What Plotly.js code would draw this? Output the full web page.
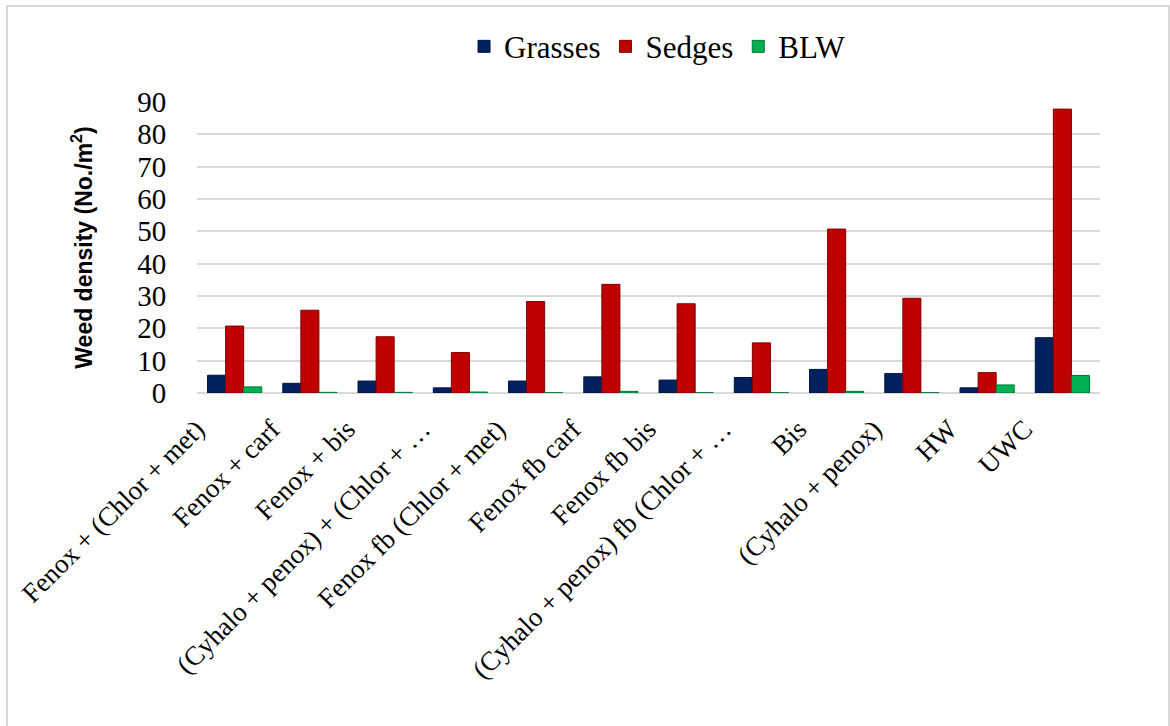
<!DOCTYPE html>
<html>
<head>
<meta charset="utf-8">
<script src="https://cdn.plot.ly/plotly-3.0.1.min.js"></script>
<style>
  html, body { margin: 0; padding: 0; background: #fff; }
  #wrap { position: relative; width: 1170px; height: 726px; overflow: hidden; }
  #chart { position: absolute; left: 0; top: 0; width: 1170px; height: 726px; }
  #frame { position: absolute; left: 6px; top: 5px; width: 1160px; height: 740px;
           border: 2px solid #d9d9d9; pointer-events: none; }
</style>
</head>
<body>
<div id="wrap">
  <div id="chart"></div>
  <div id="frame"></div>
</div>
<script>
const categories = [
  "Fenox + (Chlor + met)",
  "Fenox + carf",
  "Fenox + bis",
  "(Cyhalo + penox) + (Chlor + …",
  "Fenox fb (Chlor + met)",
  "Fenox fb carf",
  "Fenox fb bis",
  "(Cyhalo + penox) fb (Chlor + …",
  "Bis",
  "(Cyhalo + penox)",
  "HW",
  "UWC"
];
const grasses = [5.5, 3.0, 3.7, 1.6, 3.7, 5.0, 4.0, 4.8, 7.3, 6.0, 1.6, 17.1];
const sedges  = [20.7, 25.6, 17.4, 12.5, 28.3, 33.6, 27.6, 15.5, 50.7, 29.3, 6.3, 87.8];
const blw     = [1.9, 0.2, 0.2, 0.3, 0.1, 0.5, 0.1, 0.1, 0.5, 0.1, 2.5, 5.4];
const yTicks  = [0, 10, 20, 30, 40, 50, 60, 70, 80, 90];

const serif = "Times New Roman, Liberation Serif, serif";

function barTrace(name, values, fill, edge) {
  return {
    type: "bar",
    name: name,
    x: categories,
    y: values,
    marker: { color: fill, line: { color: edge, width: 1 } },
    hoverinfo: "x+y+name"
  };
}

const data = [
  barTrace("Grasses", grasses, "#002060", "#001540"),
  barTrace("Sedges", sedges, "#C00000", "#800000"),
  barTrace("BLW", blw, "#00B050", "#007a38")
];

const layout = {
  width: 1170,
  height: 726,
  margin: { l: 197, r: 70, t: 102, b: 333 },
  paper_bgcolor: "rgba(0,0,0,0)",
  plot_bgcolor: "rgba(0,0,0,0)",
  barmode: "group",
  bargap: 0.28,
  bargroupgap: 0,
  font: { family: serif, color: "#000" },
  showlegend: true,
  legend: {
    orientation: "h",
    x: 0.51, xanchor: "center",
    y: 1.19, yanchor: "middle",
    font: { family: serif, size: 31, color: "#000" },
    itemwidth: 30,
    tracegroupgap: 0
  },
  xaxis: {
    type: "category",
    tickangle: -45,
    tickfont: { family: serif, size: 27, color: "#000" },
    ticklabelshift: -38,
    ticklabelstandoff: 14,
    showgrid: false,
    zeroline: false,
    showline: false,
    ticks: "",
    automargin: false
  },
  yaxis: {
    range: [0, 90],
    tickvals: yTicks,
    ticktext: yTicks.map(String),
    tickfont: { family: serif, size: 29, color: "#000" },
    showgrid: true,
    gridcolor: "#d9d9d9",
    gridwidth: 2,
    zeroline: true,
    zerolinecolor: "#d9d9d9",
    zerolinewidth: 2,
    showline: false,
    ticks: "outside",
    ticklen: 24,
    tickcolor: "rgba(0,0,0,0)",
    automargin: false,
    title: {
      text: "Weed density (No./m<sup>2</sup>)",
      font: { family: "Arial, Liberation Sans, sans-serif", size: 23, color: "#000", weight: "bold" },
      standoff: 38
    }
  }
};

Plotly.newPlot("chart", data, layout, { displayModeBar: false, staticPlot: true });
</script>
</body>
</html>
